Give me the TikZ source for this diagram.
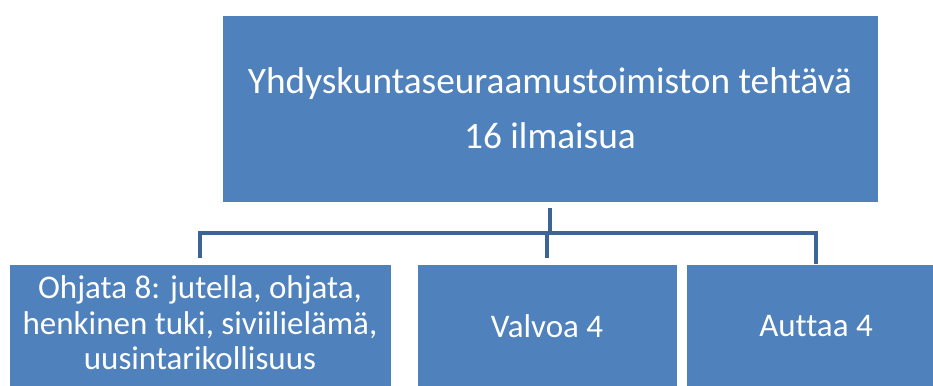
\documentclass[tikz,border=0pt]{standalone}
\usepackage{fontspec}
\setmainfont{Carlito}[Ligatures=CommonOff]
\usetikzlibrary{calc}

\definecolor{laatikko}{HTML}{4F81BD}
\definecolor{viiva}{HTML}{3C6496}

\tikzset{
  laatikko/.style={fill=laatikko, draw=white, line width=0.6pt, text=white,
    inner sep=0pt, align=center},
  alalaatikko/.style={laatikko, minimum height=124pt,
    font=\fontsize{33}{35.5}\selectfont},
  linja/.style={draw=viiva, line width=4.5pt, shorten <=6pt},
}

\begin{document}
\begin{tikzpicture}[x=1pt,y=-1pt]

% Picture frame, same as the reference
\useasboundingbox (0,0) rectangle (933,385);
\clip (0,0) rectangle (933,385);

% Define coordinates
\coordinate (haara) at (550,233);   %branch line height

% Top box
\node[laatikko, minimum width=656pt, minimum height=187pt,
      font=\fontsize{37.3}{55}\selectfont] (paa) at (550,108.5)
  {Yhdyskuntaseuraamustoimiston tehtävä\\16 ilmaisua};

% Lower boxes
\node[alalaatikko, minimum width=382pt, text depth=6pt] (ohjata) at (200,326)
  {Ohjata 8: jutella, ohjata,\\henkinen tuki, siviilielämä,\\uusintarikollisuus};
\node[alalaatikko, minimum width=260pt] (valvoa) at (547,326) {Valvoa 4};
\node[alalaatikko, minimum width=260pt] (auttaa) at (816,326) {Auttaa 4};

% Connectors
\draw[linja, line cap=butt] (paa.south) -- (paa.south |- haara);
\draw[linja, line join=miter] (ohjata.north) |- (haara) -| (auttaa.north);
\draw[linja] (valvoa.north) -- (valvoa.north |- haara);

\end{tikzpicture}
\end{document}
